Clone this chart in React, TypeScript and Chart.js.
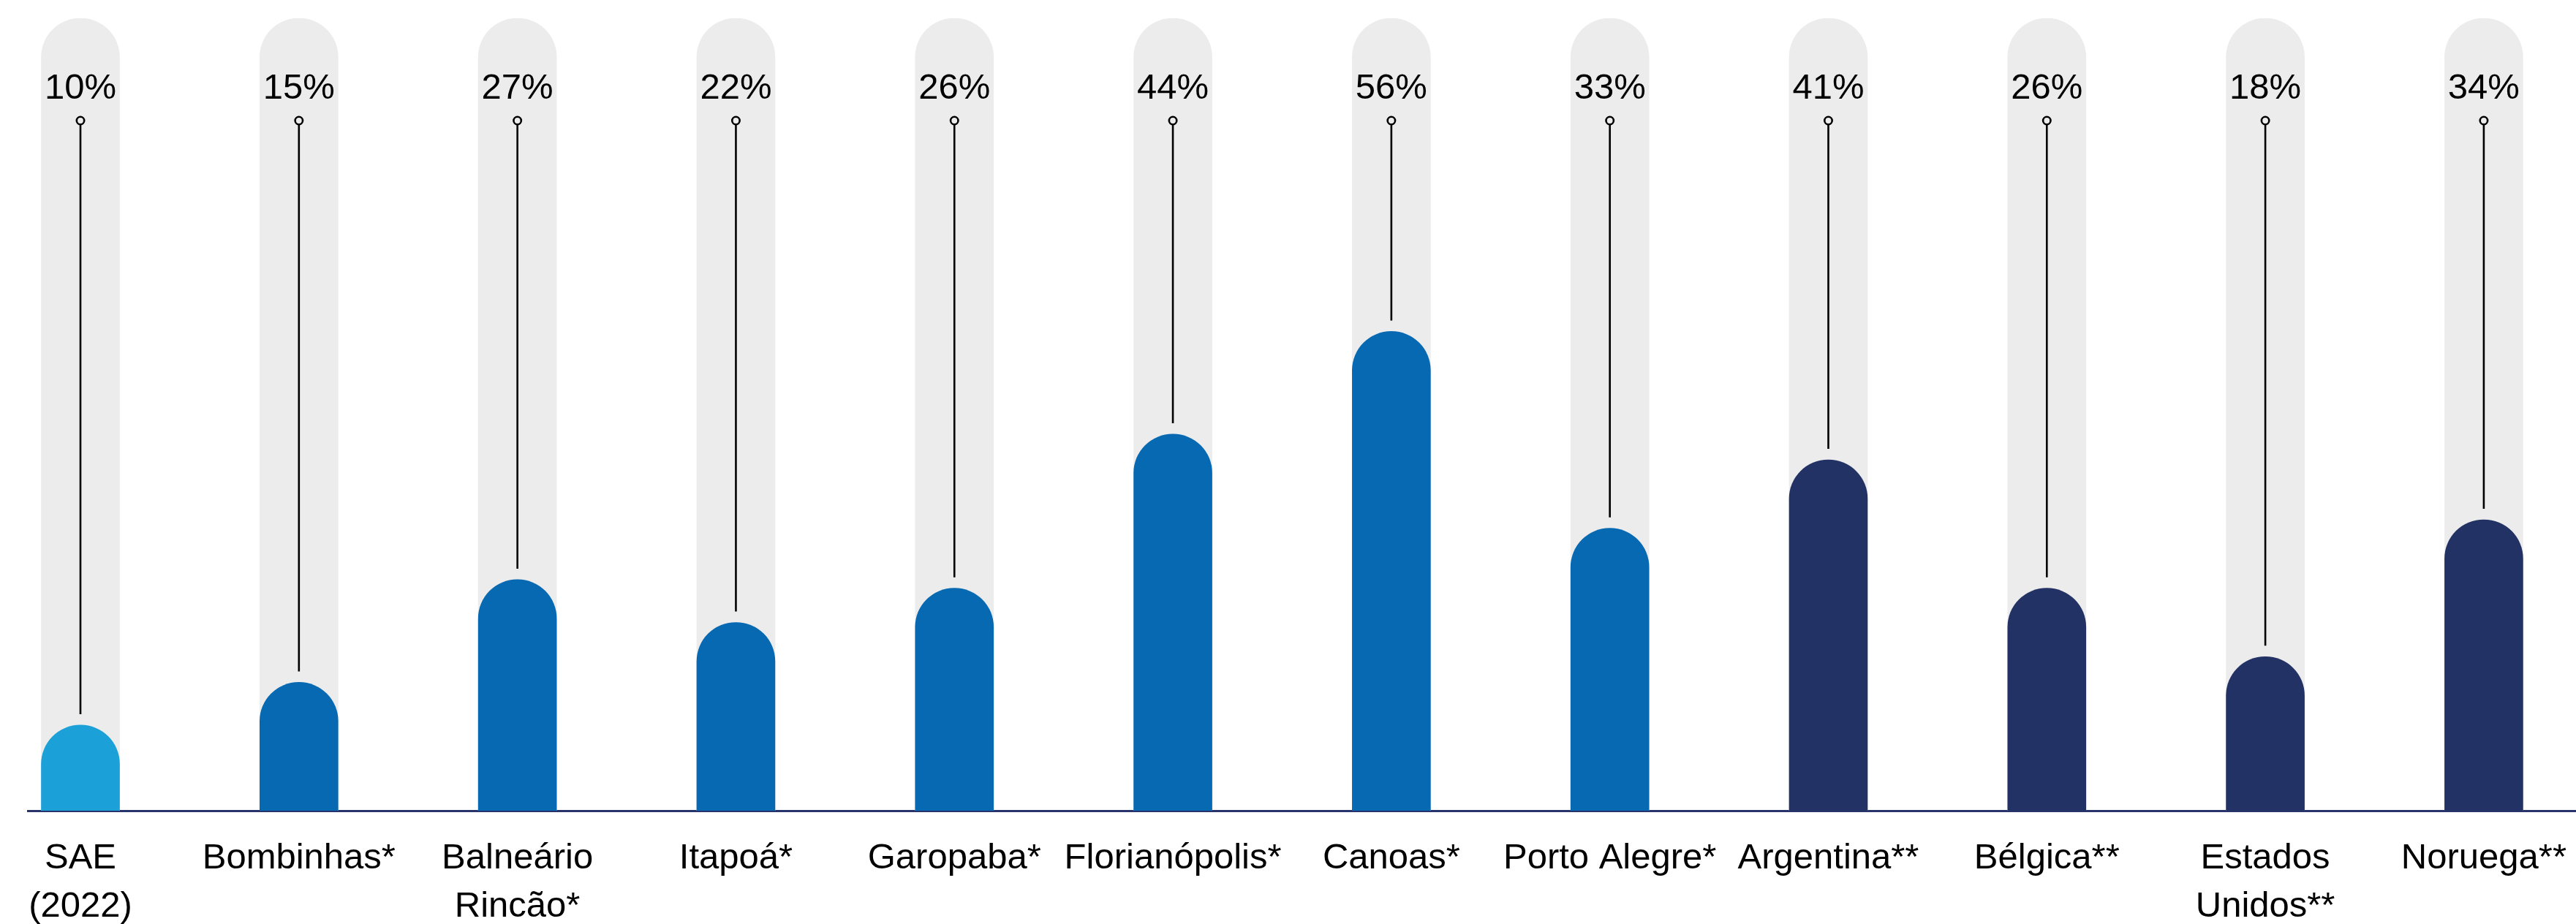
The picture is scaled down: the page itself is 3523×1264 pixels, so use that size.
import React, { useEffect, useRef } from "react";
import { Chart, registerables } from "chart.js";

Chart.register(...registerables);

const categories: (string | string[])[] = [
  ["SAE", "(2022)"],
  "Bombinhas*",
  ["Balneário", "Rincão*"],
  "Itapoá*",
  "Garopaba*",
  "Florianópolis*",
  "Canoas*",
  "Porto Alegre*",
  "Argentina**",
  "Bélgica**",
  ["Estados", "Unidos**"],
  "Noruega**",
];
const values: number[] = [10, 15, 27, 22, 26, 44, 56, 33, 41, 26, 18, 34];
const valueLabels: string[] = ["10%", "15%", "27%", "22%", "26%", "44%", "56%", "33%", "41%", "26%", "18%", "34%"];
const groups: string[] = ["sae", "city", "city", "city", "city", "city", "city", "city", "country", "country", "country", "country"];
const trackMax = 92.6;

const groupColors: Record<string, string> = {
  sae: "#1BA1D8",
  city: "#0769B2",
  country: "#233264",
};

const FONT = "'Liberation Sans', Arial, Helvetica, sans-serif";

const markerPlugin = {
  id: "markers",
  afterDatasetsDraw(chart: any) {
    const meta = chart.getDatasetMeta(1);
    const ctx = chart.ctx;
    ctx.save();
    meta.data.forEach((el: any, i: number) => {
      const x = el.x;
      const top = el.y;
      ctx.fillStyle = "#000";
      ctx.font = `49px ${FONT}`;
      ctx.textAlign = "center";
      ctx.textBaseline = "alphabetic";
      ctx.fillText(valueLabels[i], x, 135);
      ctx.strokeStyle = "#000";
      ctx.lineWidth = 2.6;
      ctx.beginPath();
      ctx.arc(x, 165, 5.2, 0, Math.PI * 2);
      ctx.stroke();
      ctx.beginPath();
      ctx.moveTo(x, 170.5);
      ctx.lineTo(x, top - 15);
      ctx.stroke();
    });
    ctx.restore();
  },
};

export default function App() {
  const ref = useRef<HTMLCanvasElement | null>(null);
  useEffect(() => {
    if (!ref.current) return;
    const chart = new Chart(ref.current, {
      type: "bar",
      data: {
        datasets: [
          {
            data: values.map((_, i) => ({ x: i, y: trackMax })),
            backgroundColor: "#ECECEC",
            borderWidth: 0,
            borderRadius: 200,
            borderSkipped: "start",
            barThickness: 107,
            grouped: false,
            order: 2,
          } as any,
          {
            data: values.map((v, i) => ({ x: i, y: v })),
            backgroundColor: groups.map((g) => groupColors[g]),
            borderWidth: 0,
            borderRadius: 200,
            borderSkipped: "start",
            barThickness: 107,
            grouped: false,
            order: 1,
          } as any,
        ],
      },
      options: {
        responsive: false,
        animation: false,
        layout: { padding: { top: 25, left: 38, right: 0, bottom: 0 } },
        plugins: { legend: { display: false }, tooltip: { enabled: false } },
        scales: {
          x: {
            type: "linear",
            min: -0.241,
            max: 11.422,
            offset: false,
            grid: { display: false, drawTicks: false, offset: false },
            border: { display: true, color: "#27336A", width: 3 },
            afterFit: (scale: any) => {
              scale.height = 155;
              scale.paddingLeft = 0;
              scale.paddingRight = 0;
            },
            ticks: {
              stepSize: 1,
              includeBounds: false,
              autoSkip: false,
              maxRotation: 0,
              minRotation: 0,
              padding: 32,
              color: "#000",
              font: { family: FONT, size: 49, lineHeight: 1.35 },
              callback: (v: any) => (Number.isInteger(v) ? categories[v] : ""),
            },
          } as any,
          y: {
            display: false,
            min: 0,
            max: trackMax,
          },
        },
      },
      plugins: [markerPlugin],
    });
    return () => chart.destroy();
  }, []);
  return (
    <div style={{ position: "absolute", left: 0, top: 0, width: 3523, height: 1264 }}>
      <canvas ref={ref} width={3523} height={1264} style={{ display: "block", width: 3523, height: 1264 }} />
    </div>
  );
}
